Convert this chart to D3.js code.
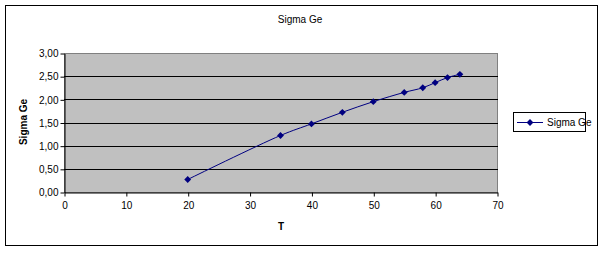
<!DOCTYPE html>
<html>
<head>
<meta charset="utf-8">
<script src="https://cdn.jsdelivr.net/npm/d3@7"></script>
<style>
  body { margin: 0; background: #fff; }
  text { font-family: "Liberation Sans", Arial, sans-serif; }
</style>
</head>
<body>
<div class="chart"></div>
<script>
// values
var tValues = [20, 35, 40, 45, 50, 55, 58, 60, 62, 64];
var sigmaGe = [0.27, 1.22, 1.47, 1.72, 1.95, 2.15, 2.25, 2.36, 2.47, 2.54];
var xTicks = [0, 10, 20, 30, 40, 50, 60, 70];
var yTicks = [0, 0.5, 1, 1.5, 2, 2.5, 3];
var seriesName = 'Sigma Ge';

var data = tValues.map((t, i) => ({ t: t, v: sigmaGe[i] }));

var W = 604, H = 253;
var plot = { left: 64, top: 53, right: 497, bottom: 192 };
var navy = '#000080';

var svg = d3.select('.chart')
  .append('svg')
  .attr('width', W)
  .attr('height', H);

// outer frame
svg.append('rect')
  .attr('x', 5.5).attr('y', 5.5)
  .attr('width', 592).attr('height', 240)
  .style('fill', 'white')
  .style('stroke', 'black')
  .style('stroke-width', 1);

var xScale = d3.scaleLinear()
  .domain([0, 70])
  .range([plot.left, plot.right]);

var yScale = d3.scaleLinear()
  .domain([0, 3])
  .range([plot.bottom, plot.top]);

// plot area
svg.append('rect')
  .attr('x', plot.left + 0.5).attr('y', plot.top + 0.5)
  .attr('width', plot.right - plot.left).attr('height', plot.bottom - plot.top)
  .style('fill', '#C0C0C0')
  .style('stroke', '#808080')
  .style('stroke-width', 1);

// gridlines
svg.selectAll('.grid')
  .data(yTicks.filter(d => d > 0 && d < 3))
  .enter()
  .append('line')
  .attr('class', 'grid')
  .attr('x1', plot.left).attr('x2', plot.right + 1)
  .attr('y1', d => Math.round(yScale(d)) + 0.5)
  .attr('y2', d => Math.round(yScale(d)) + 0.5)
  .style('stroke', 'black')
  .style('stroke-width', 1);

var fmt = d => d3.format('.2f')(d).replace('.', ',');

// y axis
var yAxis = svg.append('g')
  .attr('transform', 'translate(' + (plot.left + 0.5) + ',0.5)')
  .call(d3.axisLeft(yScale).tickValues(yTicks).tickFormat(fmt).tickSize(4).tickSizeOuter(0));

// x axis
var xAxis = svg.append('g')
  .attr('transform', 'translate(0.5,' + (plot.bottom + 0.5) + ')')
  .call(d3.axisBottom(xScale).tickValues(xTicks).tickSize(4).tickSizeOuter(0));

[xAxis, yAxis].forEach(g => {
  g.select('.domain').style('stroke', 'black');
  g.selectAll('.tick line').style('stroke', 'black');
  g.selectAll('text')
    .style('font-size', '10px')
    .style('fill', 'black');
});
yAxis.selectAll('text').attr('x', -6);
xAxis.selectAll('text').attr('y', 9);

// title and axis labels
svg.append('text')
  .attr('x', 300).attr('y', 23)
  .style('text-anchor', 'middle')
  .style('font-size', '10px')
  .text('Sigma Ge');

svg.append('text')
  .attr('transform', 'translate(27,122) rotate(-90)')
  .style('text-anchor', 'middle')
  .style('font-size', '10px')
  .style('font-weight', 'bold')
  .text('Sigma Ge');

svg.append('text')
  .attr('x', 281).attr('y', 230)
  .style('text-anchor', 'middle')
  .style('font-size', '10px')
  .style('font-weight', 'bold')
  .text('T');

// series
var line = d3.line()
  .x(d => xScale(d.t))
  .y(d => yScale(d.v))
  .curve(d3.curveCatmullRom.alpha(0.5));

svg.append('path')
  .attr('d', line(data))
  .style('fill', 'none')
  .style('stroke', navy)
  .style('stroke-width', 1);

var diamond = d3.symbol().type(d3.symbolDiamond2).size(30);

svg.selectAll('.dot')
  .data(data)
  .enter()
  .append('path')
  .attr('class', 'dot')
  .attr('d', diamond)
  .attr('transform', d => 'translate(' + xScale(d.t) + ',' + yScale(d.v) + ')')
  .style('fill', navy);

// legend
var legend = svg.append('g').attr('transform', 'translate(513,112)');
legend.append('rect')
  .attr('x', 0.5).attr('y', 0.5)
  .attr('width', 72).attr('height', 19)
  .style('fill', 'white')
  .style('stroke', 'black');
legend.append('line')
  .attr('x1', 4).attr('x2', 30)
  .attr('y1', 10.5).attr('y2', 10.5)
  .style('stroke', navy);
legend.append('path')
  .attr('d', diamond)
  .attr('transform', 'translate(17,10.5)')
  .style('fill', navy);
legend.append('text')
  .attr('x', 34).attr('y', 14)
  .style('font-size', '10px')
  .text(seriesName);
</script>
</body>
</html>
